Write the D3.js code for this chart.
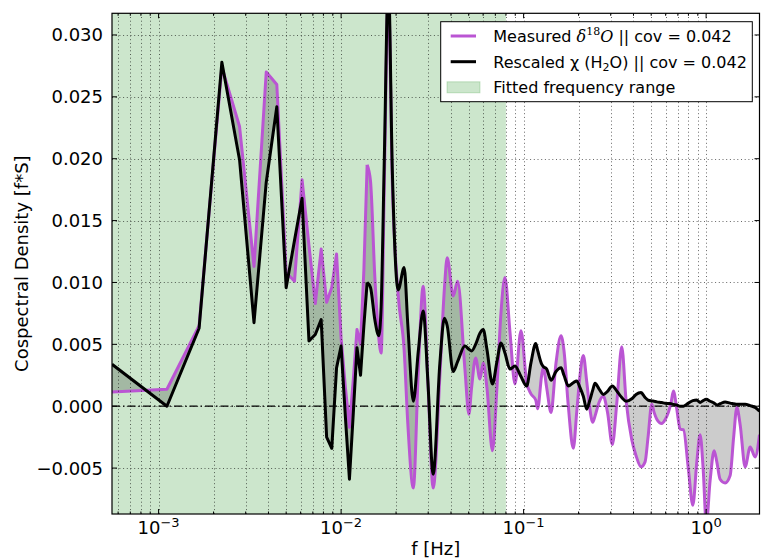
<!DOCTYPE html>
<html>
<head>
<meta charset="utf-8">
<script src="https://cdn.jsdelivr.net/npm/d3@7"></script>
<style>
body { margin: 0; background: #fff; }
svg text { font-family: "DejaVu Sans", sans-serif; fill: #000; }
</style>
</head>
<body>
<svg id="chart" width="765" height="560"></svg>
<script>
"use strict";

// frequency of each point [Hz]; the first 25 are the raw bins (k/1800 s)
var freq = [
	0.0005556, 0.001111, 0.001667, 0.002222, 0.002778, 0.003333, 0.003889, 0.004444, 0.005, 0.005556,
	0.006111, 0.006667, 0.007222, 0.007778, 0.008333, 0.008889, 0.009444, 0.01, 0.01056, 0.01111,
	0.01167, 0.01222, 0.01278, 0.01333, 0.01389,
	0.01449, 0.01530, 0.01609, 0.01657, 0.01725, 0.01815, 0.01909, 0.02054, 0.02216, 0.02322,
	0.02488, 0.02651, 0.02817, 0.02989, 0.03196, 0.03478, 0.03681, 0.03814, 0.04114, 0.04348,
	0.04769, 0.05015, 0.05189, 0.05458, 0.05763, 0.06008, 0.06295, 0.06749, 0.07143, 0.07512,
	0.07901, 0.08418, 0.08967, 0.09672, 0.1039, 0.1097, 0.1165, 0.1194, 0.1256, 0.1282,
	0.1338, 0.1413, 0.1505, 0.1603, 0.1664, 0.1758, 0.1872, 0.1954, 0.2037, 0.2124,
	0.2217, 0.2297, 0.2392, 0.2462, 0.2589, 0.2734, 0.2883, 0.3063, 0.3250, 0.3449,
	0.3641, 0.3914, 0.4132, 0.4401, 0.4628, 0.4807, 0.5038, 0.5187, 0.5367, 0.5715,
	0.5958, 0.6212, 0.6428, 0.6618, 0.6909, 0.7203, 0.7510, 0.7999, 0.8456, 0.8892,
	0.9271, 0.9628, 1.0025, 1.0518, 1.1063, 1.1445, 1.1932, 1.2710, 1.3540, 1.4152,
	1.4737, 1.5363, 1.6363, 1.7430, 1.8566, 1.9610
];

// measured d18O cospectrum
var measured = [
	0.00115, 0.00137, 0.0065, 0.0274, 0.0226, 0.0113, 0.0270, 0.0260, 0.0108, 0.0101,
	0.0183, 0.0130, 0.0083, 0.0127, 0.0084, 0.0096, 0.0123, 0.0055, 0.0015, -0.0017,
	0.0022, 0.0062, 0.0050, 0.0110, 0.0195,
	0.0182, 0.0105, 0.0055, 0.0043, 0.0180, 0.0335, 0.0180, 0.0090, 0.0045, -0.0015,
	-0.0066, 0.0030, 0.0097, 0.0020, -0.0066, 0.0025, 0.0095, 0.0120, 0.0089, 0.0101,
	0.0030, -0.00065, 0.0015, 0.0039, 0.0022, 0.0035, 0.0015, -0.0036, 0.0015, 0.0075,
	0.0104, 0.0060, 0.0018, 0.0061, 0.0019, 0.0010, 0.0005, -0.0002, 0.0025, 0.0031,
	0.0015, -0.0005, 0.0035, 0.0057, 0.0045, 0.0000, -0.0034, -0.0005, 0.0025, 0.0041,
	0.0020, 0.0000, -0.0013, -0.0008, 0.0003, 0.0008, -0.0005, -0.0031, 0.0005, 0.0048,
	0.0005, -0.0027, -0.0040, -0.0049, -0.0045, -0.0025, 0.00016, -0.0005, -0.00105, -0.0014,
	-0.0011, -0.0005, 0.0003, 0.00123, -0.00024, -0.00185, -0.0019, -0.0051, -0.0080, -0.0045,
	-0.0023, -0.0050, -0.0095, -0.0060, -0.0036, -0.0045, -0.0059, -0.0062, -0.0056, -0.0025,
	-0.0001, -0.0015, -0.0049, -0.0033, -0.0041, -0.0023
];

// rescaled H2O mixing ratio cospectrum
var rescaled = [
	0.00339, 0.0000, 0.0063, 0.0278, 0.0199, 0.00675, 0.0181, 0.0242, 0.00957, 0.0134,
	0.0168, 0.00527, 0.0058, 0.0070, -0.0025, -0.0034, 0.0031, 0.00486, -0.0009, -0.0059,
	-0.0005, 0.00473, 0.0025, 0.0065, 0.0100,
	0.0096, 0.0070, 0.0057, 0.0080, 0.0200, 0.0345, 0.0190, 0.0094, 0.0112, 0.0065,
	0.0004, 0.0045, 0.0077, 0.0020, -0.0055, 0.0035, 0.0071, 0.0065, 0.0028, 0.0036,
	0.00486, 0.0046, 0.00446, 0.0050, 0.0059, 0.0062, 0.0046, 0.0018, 0.0036, 0.0051,
	0.0043, 0.0030, 0.00325, 0.0024, 0.00164, 0.0035, 0.00506, 0.0045, 0.0034, 0.0032,
	0.0030, 0.0021, 0.0028, 0.0031, 0.0025, 0.00164, 0.0019, 0.00204, 0.0015, 0.0008,
	-0.00024, 0.0004, 0.0013, 0.00185, 0.0014, 0.00095, 0.0012, 0.00164, 0.0012, 0.0007,
	0.0004, 0.0006, 0.00095, 0.0011, 0.0007, 0.0005, 0.00043, 0.0004, 0.00035, 0.0003,
	0.00024, 0.00022, 0.0002, 0.00015, 0.0001, 0.0000, 0.0000, 0.00025, 0.00045, 0.0005,
	0.0003, 0.00045, 0.00056, 0.0004, 0.00025, 0.0001, 0.0002, 0.00035, 0.00025, 0.0002,
	0.00015, 0.00015, 0.00016, 0.00005, -0.0001, -0.0004
];

var nRaw = 25; // raw bins are joined with straight segments
var fitRange = [0.0005556, 0.08];
var xDomain = [0.0005556, 1.961];
var yDomain = [-0.00871, 0.03175];
var xMajorTicks = [0.001, 0.01, 0.1, 1];
var yTicks = [-0.005, 0, 0.005, 0.010, 0.015, 0.020, 0.025, 0.030];
var legendCov = ["0.042", "0.042"];

var Chart = (function(){
	var width = 765, height = 560,
		margin = {top: 13.3, right: 5.5, bottom: 46, left: 112},
		purple = "#ba55d3";

	function init(el) {
		var svg = d3.select("#" + el);
		var x = d3.scaleLog().domain(xDomain).range([margin.left, width - margin.right]);
		var y = d3.scaleLinear().domain(yDomain).range([height - margin.bottom, margin.top]);
		var left = x.range()[0], right = x.range()[1],
			top = y.range()[1], bottom = y.range()[0];

		svg.append("clipPath").attr("id", "plotclip")
			.append("rect")
			.attr("x", left).attr("y", top)
			.attr("width", right - left).attr("height", bottom - top);

		var plot = svg.append("g").attr("clip-path", "url(#plotclip)");

		// fitted frequency range
		plot.append("rect")
			.attr("x", x(fitRange[0]))
			.attr("width", x(fitRange[1]) - x(fitRange[0]))
			.attr("y", top).attr("height", bottom - top)
			.attr("fill", "rgba(0,128,0,0.2)");

		var pts = freq.map(function(f, i) {
			return {f: f, m: measured[i], r: rescaled[i]};
		});
		var parts = [
			{pts: pts.slice(0, nRaw), curve: d3.curveLinear},
			{pts: pts.slice(nRaw - 1), curve: d3.curveMonotoneX}
		];

		// fill between the two curves
		parts.forEach(function(p) {
			plot.append("path")
				.datum(p.pts)
				.attr("d", d3.area().curve(p.curve)
					.x(function(d) { return x(d.f); })
					.y0(function(d) { return y(d.r); })
					.y1(function(d) { return y(d.m); }))
				.attr("fill", "rgba(0,0,0,0.2)");
		});

		// grid
		var grid = svg.append("g")
			.attr("stroke", "#000").attr("stroke-width", 0.7)
			.attr("stroke-dasharray", "1,2.7").attr("opacity", 0.85);
		x.ticks().forEach(function(v) {
			var xp = Math.round(x(v)) + 0.5;
			if (xp <= left + 1 || xp >= right - 1) return;
			grid.append("line").attr("x1", xp).attr("x2", xp).attr("y1", top).attr("y2", bottom);
		});
		yTicks.forEach(function(v) {
			var yp = Math.round(y(v)) + 0.5;
			grid.append("line").attr("x1", left).attr("x2", right).attr("y1", yp).attr("y2", yp);
		});

		// zero line
		plot.append("line")
			.attr("x1", left).attr("x2", right)
			.attr("y1", y(0)).attr("y2", y(0))
			.attr("stroke", "#000").attr("stroke-width", 1.3)
			.attr("stroke-dasharray", "8,3,1.5,3");

		// curves
		[["m", purple], ["r", "#000"]].forEach(function(s) {
			parts.forEach(function(p) {
				plot.append("path")
					.datum(p.pts)
					.attr("d", d3.line().curve(p.curve)
						.x(function(d) { return x(d.f); })
						.y(function(d) { return y(d[s[0]]); }))
					.attr("fill", "none")
					.attr("stroke", s[1])
					.attr("stroke-width", 3)
					.attr("stroke-linejoin", "round");
			});
		});

		// frame and ticks
		svg.append("rect")
			.attr("x", left).attr("y", top)
			.attr("width", right - left).attr("height", bottom - top)
			.attr("fill", "none").attr("stroke", "#000").attr("stroke-width", 1.2);

		var ticks = svg.append("g").attr("stroke", "#000").attr("stroke-width", 1);
		x.ticks().forEach(function(v) {
			var xp = x(v);
			if (xp < left || xp > right) return;
			var len = xMajorTicks.indexOf(v) >= 0 ? 5 : 2.5;
			ticks.append("line").attr("x1", xp).attr("x2", xp).attr("y1", bottom).attr("y2", bottom - len);
			ticks.append("line").attr("x1", xp).attr("x2", xp).attr("y1", top).attr("y2", top + len);
		});
		yTicks.forEach(function(v) {
			var yp = y(v);
			ticks.append("line").attr("x1", left).attr("x2", left + 5).attr("y1", yp).attr("y2", yp);
			ticks.append("line").attr("x1", right).attr("x2", right - 5).attr("y1", yp).attr("y2", yp);
		});

		// tick labels
		var fmt = d3.format(".3f");
		svg.append("g").selectAll("text")
			.data(yTicks).enter().append("text")
			.attr("x", left - 9)
			.attr("y", function(d) { return y(d) + 6.5; })
			.attr("text-anchor", "end")
			.attr("font-size", 18)
			.text(function(d) { return fmt(d); });

		xMajorTicks.forEach(function(v) {
			var t = svg.append("text")
				.attr("x", x(v)).attr("y", 534)
				.attr("text-anchor", "middle")
				.attr("font-size", 18);
			t.append("tspan").text("10");
			t.append("tspan").attr("font-size", 13).attr("dy", -7)
				.text(d3.format("d")(Math.round(Math.log10(v))).replace("-", "\u2212"));
		});

		// axis labels
		svg.append("text")
			.attr("x", (left + right) / 2).attr("y", 555)
			.attr("text-anchor", "middle").attr("font-size", 18)
			.text("f [Hz]");
		svg.append("text")
			.attr("transform", "translate(28," + ((top + bottom) / 2) + ") rotate(-90)")
			.attr("text-anchor", "middle").attr("font-size", 18)
			.text("Cospectral Density [f*S]");

		drawLegend(svg);
	}

	function drawLegend(svg) {
		var g = svg.append("g");
		g.append("rect")
			.attr("x", 440.7).attr("y", 21.7).attr("width", 311.6).attr("height", 80)
			.attr("fill", "#fff").attr("stroke", "#000").attr("stroke-width", 1);

		var rows = [36, 61.7, 87.3], tx = 493.3;
		g.append("line").attr("x1", 450.7).attr("x2", 476).attr("y1", rows[0]).attr("y2", rows[0])
			.attr("stroke", purple).attr("stroke-width", 3);
		g.append("line").attr("x1", 450.7).attr("x2", 476).attr("y1", rows[1]).attr("y2", rows[1])
			.attr("stroke", "#000").attr("stroke-width", 3);
		g.append("rect").attr("x", 447).attr("y", rows[2] - 5.5).attr("width", 33).attr("height", 11)
			.attr("fill", "rgba(0,128,0,0.2)").attr("stroke", "rgba(0,128,0,0.2)");

		var t1 = g.append("text").attr("x", tx).attr("y", rows[0] + 5.8).attr("font-size", 16);
		t1.append("tspan").text("Measured ");
		t1.append("tspan").attr("font-family", "'DejaVu Serif', serif").attr("font-style", "italic").text("\u03b4");
		t1.append("tspan").attr("font-family", "'DejaVu Serif', serif").attr("font-size", 11).attr("dy", -7).text("18");
		t1.append("tspan").attr("font-family", "'DejaVu Serif', serif").attr("font-style", "italic").attr("dy", 7).text("O");
		t1.append("tspan").text(" || cov = " + legendCov[0]);

		var t2 = g.append("text").attr("x", tx).attr("y", rows[1] + 5.8).attr("font-size", 16);
		t2.append("tspan").text("Rescaled \u03c7 (H");
		t2.append("tspan").attr("font-size", 11).attr("dy", 3).text("2");
		t2.append("tspan").attr("dy", -3).text("O) || cov = " + legendCov[1]);

		g.append("text").attr("x", tx).attr("y", rows[2] + 5.8).attr("font-size", 16)
			.text("Fitted frequency range");
	}

	return {
		"init": init
	};
}());

Chart.init("chart");
</script>
</body>
</html>
